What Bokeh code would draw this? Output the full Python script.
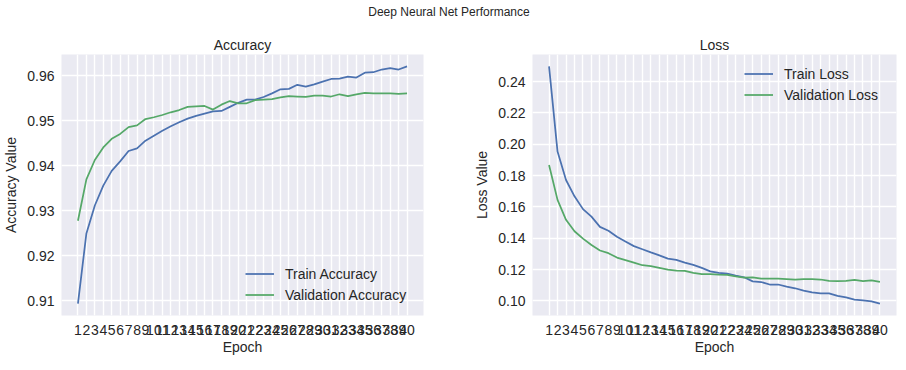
from bokeh.plotting import figure
from bokeh.models import (Range1d, FixedTicker, PrintfTickFormatter, Legend, LegendItem, Div)
from bokeh.layouts import row, column
from bokeh.embed import file_html
from bokeh.resources import INLINE

epochs = list(range(1, 41))
train_acc = [0.9094, 0.9250, 0.9312, 0.9356, 0.9389, 0.9410, 0.9433, 0.9439, 0.9456, 0.9467,
             0.9478, 0.9488, 0.9497, 0.9505, 0.9511, 0.9516, 0.9521, 0.9522, 0.9531, 0.9540,
             0.9547, 0.9547, 0.9553, 0.9561, 0.9570, 0.9571, 0.9580, 0.9576, 0.9581, 0.9587,
             0.9593, 0.9594, 0.9598, 0.9596, 0.9607, 0.9608, 0.9614, 0.9617, 0.9614, 0.9621]
val_acc = [0.9278, 0.9370, 0.9413, 0.9441, 0.9460, 0.9471, 0.9486, 0.9490, 0.9504, 0.9508,
           0.9513, 0.9519, 0.9524, 0.9531, 0.9532, 0.9533, 0.9525, 0.9536, 0.9544, 0.9539,
           0.9539, 0.9546, 0.9547, 0.9548, 0.9552, 0.9555, 0.9554, 0.9553, 0.9556, 0.9556,
           0.9554, 0.9559, 0.9555, 0.9559, 0.9562, 0.9561, 0.9561, 0.9561, 0.9560, 0.9561]
train_loss = [0.2497, 0.1953, 0.1772, 0.1668, 0.1586, 0.1538, 0.1473, 0.1448, 0.1410, 0.1380,
              0.1350, 0.1330, 0.1310, 0.1291, 0.1270, 0.1262, 0.1245, 0.1230, 0.1211, 0.1189,
              0.1179, 0.1174, 0.1162, 0.1151, 0.1125, 0.1121, 0.1105, 0.1105, 0.1092, 0.1081,
              0.1066, 0.1055, 0.1049, 0.1049, 0.1032, 0.1023, 0.1009, 0.1004, 0.0998, 0.0983]
val_loss = [0.1868, 0.1645, 0.1518, 0.1445, 0.1398, 0.1357, 0.1322, 0.1305, 0.1277, 0.1261,
            0.1245, 0.1228, 0.1222, 0.1211, 0.1200, 0.1194, 0.1192, 0.1179, 0.1172, 0.1172,
            0.1168, 0.1166, 0.1157, 0.1149, 0.1151, 0.1142, 0.1142, 0.1142, 0.1140, 0.1137,
            0.1139, 0.1139, 0.1137, 0.1128, 0.1126, 0.1128, 0.1134, 0.1126, 0.1132, 0.1122]
acc_ticks = [0.91, 0.92, 0.93, 0.94, 0.95, 0.96]
loss_ticks = [0.10, 0.12, 0.14, 0.16, 0.18, 0.20, 0.22, 0.24]

FONT = "Liberation Sans"
TXT = "#262626"
BLUE = "#4C72B0"
GREEN = "#55A868"


def padded(vals, frac=0.05):
    lo, hi = min(vals), max(vals)
    d = (hi - lo) * frac
    return lo - d, hi + d


def make_fig(title, ylabel, yvals, yticks, width, bl, br):
    y0, y1 = padded(yvals)
    x0, x1 = padded(epochs)
    p = figure(width=width, height=342, output_backend="svg", toolbar_location=None,
               x_range=Range1d(x0, x1), y_range=Range1d(y0, y1),
               min_border_left=bl, min_border_right=br, min_border_top=35, min_border_bottom=46,
               background_fill_color="#EAEAF2", border_fill_color="white", outline_line_color=None)
    p.title.text = title
    p.title.text_font = FONT
    p.title.text_font_size = "14px"
    p.title.text_font_style = "normal"
    p.title.text_color = TXT
    p.title.align = "center"
    p.title.standoff = 4
    p.xaxis.ticker = FixedTicker(ticks=epochs)
    p.yaxis.ticker = FixedTicker(ticks=yticks)
    p.yaxis.formatter = PrintfTickFormatter(format="%.2f")
    p.xaxis.axis_label = "Epoch"
    p.yaxis.axis_label = ylabel
    for ax in (p.xaxis, p.yaxis):
        ax.axis_line_color = None
        ax.major_tick_line_color = None
        ax.minor_tick_line_color = None
        ax.major_tick_in = 0
        ax.major_tick_out = 0
        ax.minor_tick_out = 0
        ax.major_label_text_font = FONT
        ax.major_label_text_font_size = "14px"
        ax.major_label_text_color = TXT
        ax.axis_label_text_font = FONT
        ax.axis_label_text_font_size = "14px"
        ax.axis_label_text_font_style = "normal"
        ax.axis_label_text_color = TXT
    p.xaxis.major_label_standoff = 9
    p.xaxis.axis_label_standoff = 1
    p.yaxis.major_label_standoff = 7
    p.yaxis.axis_label_standoff = 5
    p.xgrid.grid_line_color = "white"
    p.ygrid.grid_line_color = "white"
    p.xgrid.grid_line_width = 1.4
    p.ygrid.grid_line_width = 1.4
    return p


p1 = make_fig("Accuracy", "Accuracy Value", train_acc + val_acc, acc_ticks, 466, 59, 43)
r1 = p1.line(epochs, train_acc, line_color=BLUE, line_width=1.75)
r2 = p1.line(epochs, val_acc, line_color=GREEN, line_width=1.75)

p2 = make_fig("Loss", "Loss Value", train_loss + val_loss, loss_ticks, 432, 66, 2)
r3 = p2.line(epochs, train_loss, line_color=BLUE, line_width=1.75)
r4 = p2.line(epochs, val_loss, line_color=GREEN, line_width=1.75)


def add_legend(p, items, loc):
    leg = Legend(items=[LegendItem(label=l, renderers=[r]) for l, r in items], location=loc)
    leg.background_fill_alpha = 0
    leg.border_line_alpha = 0
    leg.padding = 0
    leg.margin = 0
    leg.spacing = 0
    leg.label_height = 21
    leg.glyph_height = 21
    leg.glyph_width = 29
    leg.label_standoff = 11
    leg.label_text_font = FONT
    leg.label_text_font_size = "14px"
    leg.label_text_color = TXT
    p.add_layout(leg)


add_legend(p1, [("Train Accuracy", r1), ("Validation Accuracy", r2)], (184, 10))
add_legend(p2, [("Train Loss", r3), ("Validation Loss", r4)], (212, 210))

sup = Div(text='<div style="text-align:center;font-family:\'Liberation Sans\';font-size:12px;'
               'line-height:12px;padding-top:6px;padding-left:30px;width:868px;color:#262626">'
               'Deep Neural Net Performance</div>',
          width=898, height=19, margin=(0, 0, 0, 0))

layout = column(sup, row(p1, p2, spacing=0), spacing=0)
open("out.html", "w").write(file_html(layout, INLINE))
